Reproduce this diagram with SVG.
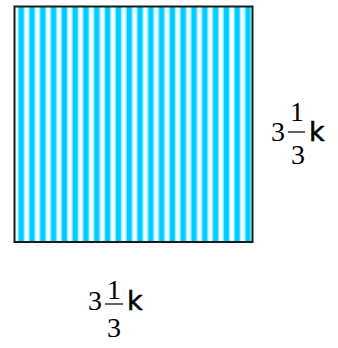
<svg xmlns="http://www.w3.org/2000/svg" width="338" height="348" viewBox="0 0 338 348">
<style>
.num { font-family: 'Liberation Serif', 'Times New Roman', serif; font-size: 28px; fill: #000; }
.mid { text-anchor: middle; }
.var { font-family: 'DejaVu Sans', Verdana, sans-serif; font-size: 27px; fill: #000; stroke: #000; stroke-width: 0.5; }
.bar { stroke: #000; stroke-width: 1.2; }
</style>
<defs>
<linearGradient id="sg" x1="0" y1="0" x2="1" y2="0">
<stop offset="0" stop-color="#ffffff"/>
<stop offset="0.15" stop-color="#ffffff"/>
<stop offset="0.3" stop-color="#99eeff"/>
<stop offset="0.4" stop-color="#00ccff"/>
<stop offset="0.75" stop-color="#00ccff"/>
<stop offset="0.85" stop-color="#99eeff"/>
<stop offset="1" stop-color="#ffffff"/>
</linearGradient>
<pattern id="stripes" patternUnits="userSpaceOnUse" x="15" y="0" width="10.8" height="20">
<rect x="0" y="0" width="10.8" height="20" fill="url(#sg)"/>
</pattern>
</defs>
<g id="square">
<rect x="14.5" y="6.5" width="238" height="235.5" fill="url(#stripes)" stroke="#1a1a1a" stroke-width="2"/>
</g>
<g id="label-right">
<text class="num" x="271" y="141">3</text>
<text class="num mid" x="297" y="121">1</text>
<line class="bar" x1="288" y1="132" x2="305" y2="132"/>
<text class="num mid" x="298" y="164">3</text>
<text class="var" x="309" y="141">k</text>
</g>
<g id="label-bottom">
<text class="num" x="88" y="310">3</text>
<text class="num mid" x="114" y="299">1</text>
<line class="bar" x1="105" y1="304" x2="123" y2="304"/>
<text class="num mid" x="114" y="337">3</text>
<text class="var" x="127" y="310">k</text>
</g>
</svg>
